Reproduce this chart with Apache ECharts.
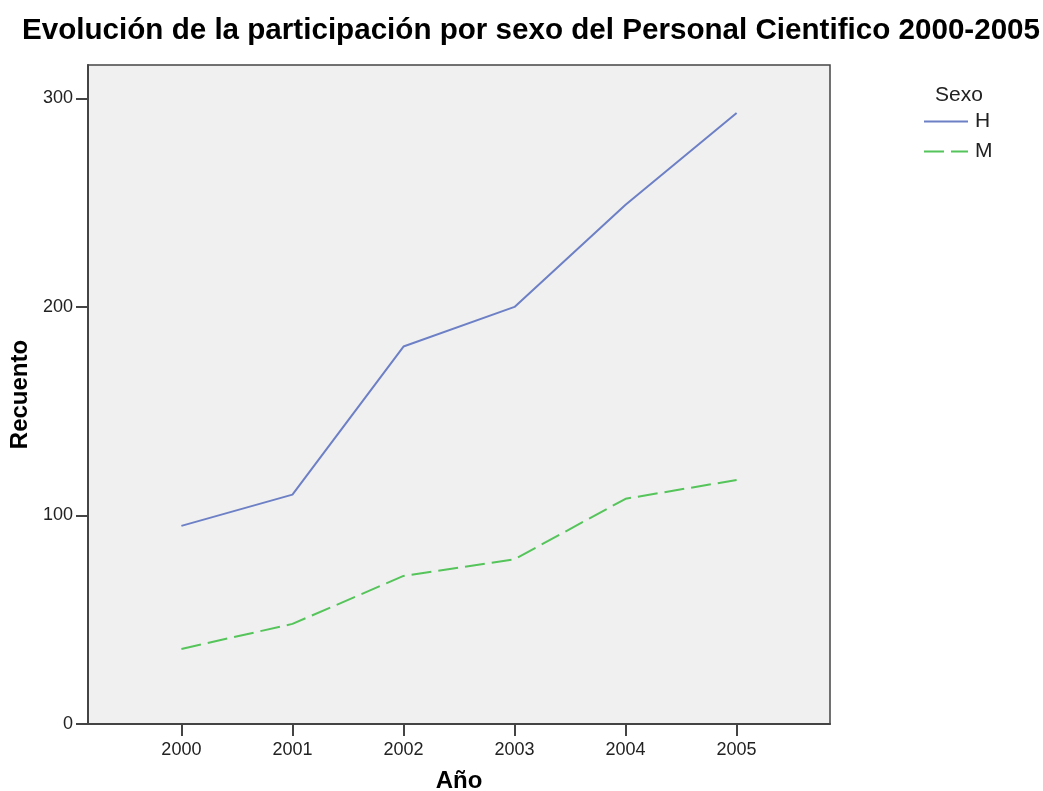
<!DOCTYPE html>
<html>
<head>
<meta charset="utf-8">
<script src="https://cdn.jsdelivr.net/npm/echarts@6/dist/echarts.min.js"></script>
<style>
  html, body { margin: 0; padding: 0; background: #fff; }
  #chart { width: 1043px; height: 791px; }
</style>
</head>
<body>
<div id="chart"></div>
<script>
// datos
var years = [2000, 2001, 2002, 2003, 2004, 2005]
var hombres = [95, 110, 181, 200, 249, 293]
var mujeres = [36, 48, 71, 79, 108, 117]
var yTicks = [0, 100, 200, 300]

var chart = echarts.init(document.getElementById('chart'))
var font = '"Liberation Sans", Arial, sans-serif'

var option = {
  backgroundColor: '#fff',
  animation: false,
  title: [
    {
      text: 'Evolución de la participación por sexo del Personal Cientifico 2000-2005',
      left: 22,
      top: 16,
      padding: 0,
      textStyle: { fontFamily: font, fontSize: 29.6, fontWeight: 'bold', color: '#000' }
    },
    {
      text: 'Sexo',
      left: 930,
      top: 80,
      textStyle: { fontFamily: font, fontSize: 21, fontWeight: 'normal', color: '#222' }
    }
  ],
  legend: {
    orient: 'vertical',
    left: 923,
    top: 111,
    padding: 0,
    itemWidth: 44,
    itemHeight: 20,
    itemGap: 9,
    itemStyle: { opacity: 0 },
    textStyle: { fontFamily: font, fontSize: 21, color: '#222', padding: [0, 0, 0, 2] },
    data: ['H', 'M']
  },
  grid: {
    left: 88,
    right: 213,
    top: 65,
    bottom: 67,
    outerBoundsMode: 'none',
    show: true,
    backgroundColor: '#f0f0f0',
    borderColor: '#444',
    borderWidth: 1.5
  },
  xAxis: {
    type: 'value',
    min: 1999.159,
    max: 2005.841,
    name: 'Año',
    nameLocation: 'middle',
    nameGap: 45,
    nameTextStyle: { fontFamily: font, fontSize: 24, fontWeight: 'bold', color: '#000' },
    splitLine: { show: false },
    axisLine: { show: true, lineStyle: { color: '#444', width: 2 } },
    axisTick: { show: true, length: 12, customValues: years, lineStyle: { color: '#444', width: 2 } },
    axisLabel: {
      customValues: years,
      margin: 17,
      fontFamily: font,
      fontSize: 18,
      color: '#222',
      formatter: function (v) { return String(v) }
    }
  },
  yAxis: {
    type: 'value',
    min: 0,
    max: 316,
    name: 'Recuento',
    nameLocation: 'middle',
    nameGap: 53,
    nameRotate: 90,
    nameTextStyle: { fontFamily: font, fontSize: 24, fontWeight: 'bold', color: '#000' },
    splitLine: { show: false },
    axisLine: { show: true, lineStyle: { color: '#444', width: 2 } },
    axisTick: { show: true, length: 12, customValues: yTicks, lineStyle: { color: '#444', width: 2 } },
    axisLabel: {
      customValues: yTicks,
      margin: 15,
      fontFamily: font,
      fontSize: 18,
      color: '#222'
    }
  },
  series: [
    {
      name: 'H',
      type: 'line',
      symbol: 'none',
      data: years.map(function (y, i) { return [y, hombres[i]] }),
      itemStyle: { color: '#6d80c6' },
      lineStyle: { color: '#6d80c6', width: 2 }
    },
    {
      name: 'M',
      type: 'line',
      symbol: 'none',
      data: years.map(function (y, i) { return [y, mujeres[i]] }),
      itemStyle: { color: '#55c45a' },
      lineStyle: { color: '#55c45a', width: 2, type: [20, 7] }
    }
  ]
}

chart.setOption(option)
</script>
</body>
</html>
